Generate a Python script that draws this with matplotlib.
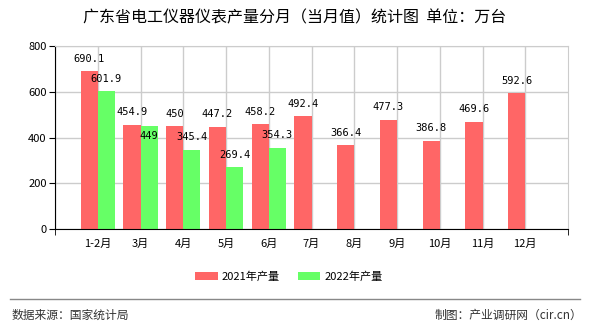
import matplotlib
matplotlib.use("Agg")
import matplotlib.pyplot as plt
import numpy as np

categories = ["1-2月", "3月", "4月", "5月", "6月", "7月", "8月", "9月", "10月", "11月", "12月"]
v2021 = [690.1, 454.9, 450, 447.2, 458.2, 492.4, 366.4, 477.3, 386.8, 469.6, 592.6]
v2022 = [601.9, 449, 345.4, 269.4, 354.3]
yticks = [0, 200, 400, 600, 800]

plt.rcParams['font.family'] = ['Noto Sans CJK SC', 'DejaVu Sans']

fig = plt.figure(figsize=(5.9, 3.3), dpi=100)
ax = fig.add_axes([55/590, 1-229/330, (568-55)/590, (229-46)/330])

red = "#FF6666"
green = "#66FF66"
w = 0.4
x = np.arange(len(categories))
x2 = np.arange(len(v2022))
ax.bar(x - w/2, v2021, width=w, color=red, zorder=3, label="2021年产量")
ax.bar(x2 + w/2, v2022, width=w, color=green, zorder=3, label="2022年产量")

lblfont = dict(fontsize=7.5, family="DejaVu Sans Mono", zorder=4, ha="center", va="center")
for xi, v in zip(x, v2021):
    ax.annotate(f"{v:g}", (xi - w/2, v), xytext=(0, 9), textcoords="offset points", **lblfont)
for xi, v in zip(x2, v2022):
    # when close to the neighbouring red label, the label sits inside the bar top
    off = -7 if abs(v - v2021[xi]) < 30 else 9
    ax.annotate(f"{v:g}", (xi + w/2, v), xytext=(0, off), textcoords="offset points", **lblfont)

ax.set_xlim(-1, len(categories))
ax.set_ylim(0, 800)
ax.set_yticks(yticks)
ax.set_yticklabels([str(t) for t in yticks], fontsize=8)
ax.set_xticks(x)
ax.set_xticklabels(categories, fontsize=8)
ax.set_xticks(np.arange(-1, len(categories) + 1), minor=True)
ax.tick_params(axis='x', which='major', length=0, pad=7)
ax.tick_params(axis='x', which='minor', length=4, color='black')
ax.tick_params(axis='y', length=4, pad=2)

ax.grid(True, axis='y', color="#CCCCCC", linewidth=1, zorder=0)
for xv in np.arange(-1, len(categories)):
    ax.axvline(xv, color="#CCCCCC", linewidth=1, zorder=0)

ax.spines['top'].set_color("#CCCCCC")
ax.spines['right'].set_color("#CCCCCC")
ax.spines['left'].set_color("black")
ax.spines['bottom'].set_color("black")
ax.spines['bottom'].set_zorder(5)

fig.text(0.5, 1-18/330, "广东省电工仪器仪表产量分月（当月值）统计图  单位：万台",
         ha="center", va="center", fontsize=11.5)

leg = fig.legend(loc="center", bbox_to_anchor=(0.49, 1-277/330), ncol=2, frameon=False,
                 fontsize=8, handlelength=2.0, handleheight=0.7, handletextpad=0.4,
                 columnspacing=1.6)

fig.add_artist(plt.Line2D([10/590, 580/590], [1-299/330, 1-299/330], color="#888888", linewidth=1))
fig.text(12/590, 1-315/330, "数据来源：国家统计局", ha="left", va="center", fontsize=8.5, color="#333333")
fig.text(582/590, 1-315/330, "制图：产业调研网（cir.cn）", ha="right", va="center", fontsize=8.5, color="#333333")

fig.savefig("out.png", dpi=100)
